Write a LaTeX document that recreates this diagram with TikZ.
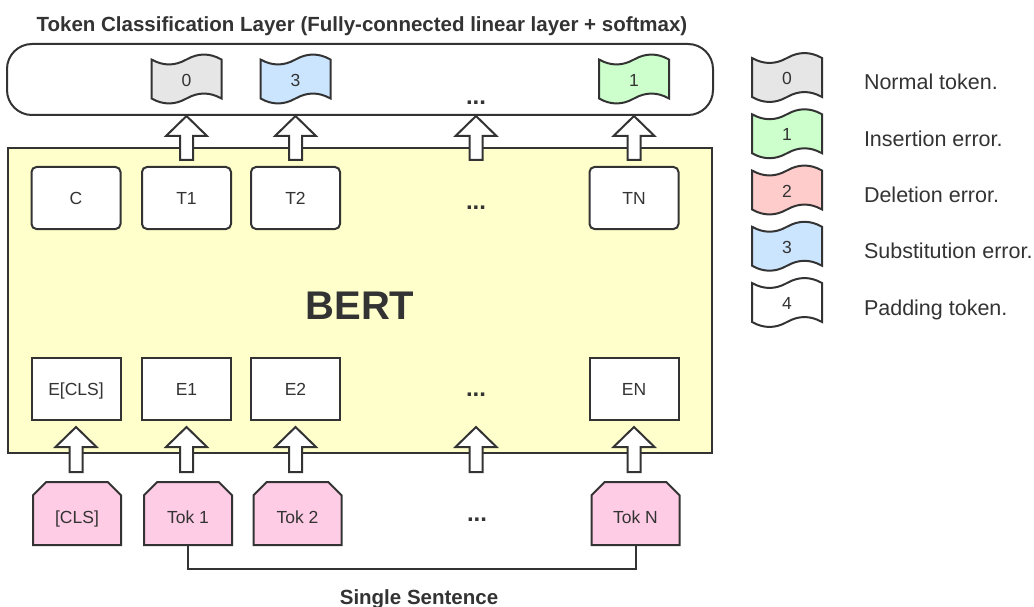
\documentclass[tikz,border=0pt]{standalone}
\usepackage{fontspec}
\setmainfont{Liberation Sans}
\usetikzlibrary{calc,shapes.misc}
\definecolor{lc}{HTML}{333333}
\definecolor{bertfill}{HTML}{FFFFCC}
\definecolor{tokfill}{HTML}{FFCCE6}
\definecolor{fgray}{HTML}{E6E6E6}
\definecolor{fgreen}{HTML}{CCFFCC}
\definecolor{fred}{HTML}{FFCCCC}
\definecolor{fblue}{HTML}{CCE5FF}
\newcommand\labfont{\fontsize{17.5}{20}\selectfont}
\newcommand\legfont{\fontsize{21.5}{24}\selectfont}
\newcommand\numfont{\fontsize{17.5}{20}\selectfont}
\newcommand\dotfont{\fontsize{24}{26}\selectfont\bfseries}
\newcommand\blockarrow[2]{\draw[barrow] let \p1=(#1), \p2=(#2) in
  (\x1-6.5pt,\y1) -- (\x1-6.5pt,\y2-20pt) -- (\x1-20.5pt,\y2-20pt) -- (\x1,\y2)
  -- (\x1+20.5pt,\y2-20pt) -- (\x1+6.5pt,\y2-20pt) -- (\x1+6.5pt,\y1) -- cycle;}
\newcommand\tapeflag[5]{%
  \begin{scope}[shift={(#2,#3)}]
  \draw[fill=#4] (0,5.5) .. controls (11.667,12.1) and (23.333,12.1) .. (35,5.5)
    .. controls (46.667,-1.1) and (58.333,-1.1) .. (70,5.5) -- (70,44.5)
    .. controls (58.333,37.9) and (46.667,37.9) .. (35,44.5)
    .. controls (23.333,51.1) and (11.667,51.1) .. (0,44.5) -- cycle;
  \node[font=\numfont, text height=12.5pt, text depth=0pt, inner sep=0pt] (#1) at (35,26) {#5};
  \end{scope}}
\tikzset{
  tbox/.style={draw, fill=white, rounded corners=5pt, minimum width=89pt, minimum height=62pt,
    inner sep=0pt, font=\labfont, text height=12.5pt, text depth=0pt},
  ebox/.style={draw, fill=white, minimum width=89pt, minimum height=62pt,
    inner sep=0pt, font=\labfont, text height=12.5pt, text depth=0pt},
  tokbox/.style={draw, fill=tokfill, chamfered rectangle, chamfered rectangle corners={north west,north east},
    chamfered rectangle xsep=12pt, chamfered rectangle angle=45, minimum width=88pt, minimum height=63pt,
    inner sep=0pt, font=\labfont, text height=19.5pt, text depth=0pt},
  dotsnode/.style={font=\dotfont, anchor=base, inner sep=0pt},
  barrow/.style={draw, fill=white, line join=miter},
  legtext/.style={font=\legfont, anchor=base west, inner sep=0pt}
}
\begin{document}
\begin{tikzpicture}[x=1pt,y=-1pt,color=lc,line width=2pt]
\useasboundingbox (0,0) rectangle (1034,607);
% title
\node[font=\fontsize{20.5}{23}\selectfont\bfseries, anchor=base, inner sep=0pt] (title) at (362,32)
  {Token Classification Layer (Fully-connected linear layer + softmax)};
% BERT block
\node[draw, fill=bertfill, minimum width=704pt, minimum height=305pt, inner sep=0pt,
  font=\fontsize{40}{44}\selectfont\bfseries, text height=37.6pt, text depth=0pt] (bert) at (360,300.5) {BERT};
% top row
\node[tbox] (C) at (76,198) {C};
\node[tbox] (T1) at (186.5,198) {T1};
\node[tbox] (T2) at (295.5,198) {T2};
\node[dotsnode] (dotsT) at (476,209) {...};
\node[tbox] (TN) at (634,198) {TN};
% embedding row
\node[ebox] (ECLS) at (76,389) {E[CLS]};
\node[ebox] (E1) at (186.5,389) {E1};
\node[ebox] (E2) at (295.5,389) {E2};
\node[dotsnode] (dotsE) at (476,396) {...};
\node[ebox] (EN) at (634,389) {EN};
% tokens
\node[tokbox] (CLS) at (77,513.5) {[CLS]};
\node[tokbox] (Tok1) at (188,513.5) {Tok 1};
\node[tokbox] (Tok2) at (297.5,513.5) {Tok 2};
\node[dotsnode] (dotsK) at (477,521) {...};
\node[tokbox] (TokN) at (635.5,513.5) {Tok N};
% sentence bracket
\draw (Tok1.south) -- ++(0,23) coordinate (brk) -| (TokN.south);
\node[font=\fontsize{20.5}{23}\selectfont\bfseries, anchor=base, inner sep=0pt] (sent) at (419,604) {Single Sentence};
% classification layer
\node[draw, rounded corners=25pt, minimum width=706pt, minimum height=71pt, inner sep=0pt] (pill) at (360,79.5) {};
\tapeflag{f0}{151.5}{54}{fgray}{0}
\tapeflag{f3}{260.5}{54}{fblue}{3}
\tapeflag{f1}{599}{54}{fgreen}{1}
\node[dotsnode] (dotsP) at (476,105) {...};
% arrows up to classification layer
\coordinate (u1b) at ($(T1.north)+(0,-6)$);
\coordinate (u2b) at ($(T2.north)+(0,-6)$);
\coordinate (u3b) at ($(dotsT |- T1.north)+(0,-6)$);
\coordinate (u4b) at ($(TN.north)+(0,-6)$);
\blockarrow{u1b}{u1b |- pill.south}
\blockarrow{u2b}{u2b |- pill.south}
\blockarrow{u3b}{u3b |- pill.south}
\blockarrow{u4b}{u4b |- pill.south}
% arrows from tokens to embeddings
\coordinate (l0b) at ($(ECLS.south |- CLS.north)+(0,-9)$);
\coordinate (l1b) at ($(E1.south |- Tok1.north)+(0,-9)$);
\coordinate (l2b) at ($(E2.south |- Tok2.north)+(0,-9)$);
\coordinate (l3b) at ($(dotsE |- Tok1.north)+(0,-9)$);
\coordinate (l4b) at ($(EN.south |- TokN.north)+(0,-9)$);
\blockarrow{l0b}{$(ECLS.south)+(0,6)$}
\blockarrow{l1b}{$(E1.south)+(0,6)$}
\blockarrow{l2b}{$(E2.south)+(0,6)$}
\blockarrow{l3b}{$(dotsE |- E1.south)+(0,6)$}
\blockarrow{l4b}{$(EN.south)+(0,6)$}
% legend
\tapeflag{g0}{752}{52.5}{fgray}{0}
\tapeflag{g1}{752}{108.75}{fgreen}{1}
\tapeflag{g2}{752}{165}{fred}{2}
\tapeflag{g3}{752}{221.25}{fblue}{3}
\tapeflag{g4}{752}{277.5}{white}{4}
\node[legtext] (lt0) at (863,90) {Normal token.};
\node[legtext] (lt1) at (863,146.25) {Insertion error.};
\node[legtext] (lt2) at (863,202.5) {Deletion error.};
\node[legtext] (lt3) at (863,258.75) {Substitution error.};
\node[legtext] (lt4) at (863,315) {Padding token.};
\end{tikzpicture}
\end{document}
